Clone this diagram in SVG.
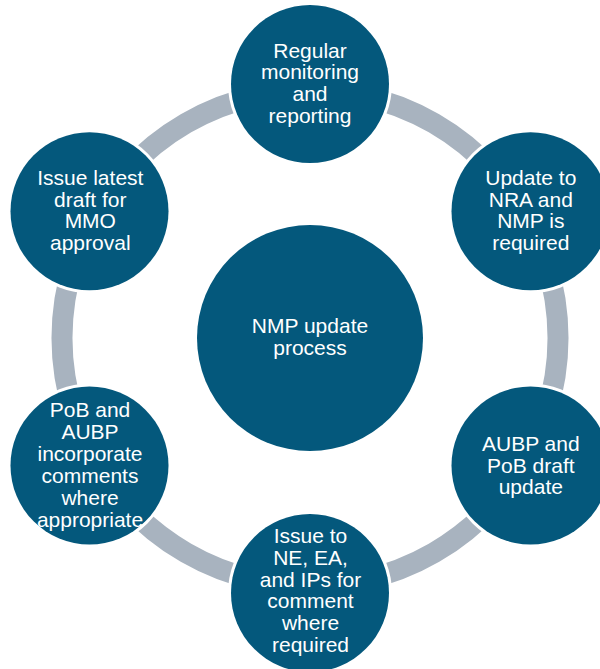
<svg xmlns="http://www.w3.org/2000/svg" width="600" height="669" viewBox="0 0 600 669">
<style>
.arc{fill:none;stroke:#A8B3BF;stroke-width:21}
.n{fill:#04587C;stroke:#FFFFFF;stroke-width:6;paint-order:stroke}
.t{font-family:"Liberation Sans",Arial,sans-serif;font-size:21px;fill:#FFFFFF;text-anchor:middle}
</style>
<rect width="600" height="669" fill="#FFFFFF"/>
<g id="connectors">
<path class="arc" d="M 361.57 95.42 A 248 248 0 0 1 494.3 172.1"/>
<path class="arc" d="M 545.9 261.4 A 248 248 0 0 1 545.9 414.6"/>
<path class="arc" d="M 494.3 503.9 A 248 248 0 0 1 361.57 580.58"/>
<path class="arc" d="M 258.43 580.58 A 248 248 0 0 1 125.7 503.9"/>
<path class="arc" d="M 74.1 414.6 A 248 248 0 0 1 74.1 261.4"/>
<path class="arc" d="M 125.7 172.1 A 248 248 0 0 1 258.43 95.42"/>
</g>
<g id="center">
<circle class="n" cx="310" cy="338" r="113"/>
<text class="t"><tspan x="310" y="333.3">NMP update</tspan><tspan x="310" y="355">process</tspan></text>
</g>
<g id="node-top">
<circle class="n" cx="310" cy="84" r="79"/>
<text class="t"><tspan x="310" y="57.7">Regular</tspan><tspan x="310" y="79.4">monitoring</tspan><tspan x="310" y="101.1">and</tspan><tspan x="310" y="122.8">reporting</tspan></text>
</g>
<g id="node-upper-right">
<circle class="n" cx="530.5" cy="211.2" r="79"/>
<text class="t"><tspan x="530.8" y="185">Update to</tspan><tspan x="530.8" y="206.7">NRA and</tspan><tspan x="530.8" y="228.4">NMP is</tspan><tspan x="530.8" y="250.1">required</tspan></text>
</g>
<g id="node-lower-right">
<circle class="n" cx="530.5" cy="465.5" r="79"/>
<text class="t"><tspan x="530.8" y="451">AUBP and</tspan><tspan x="530.8" y="472.7">PoB draft</tspan><tspan x="530.8" y="494.4">update</tspan></text>
</g>
<g id="node-bottom">
<circle class="n" cx="310" cy="593" r="79"/>
<text class="t"><tspan x="310.5" y="543.3">Issue to</tspan><tspan x="310.5" y="565">NE, EA,</tspan><tspan x="310.5" y="586.7">and IPs for</tspan><tspan x="310.5" y="608.4">comment</tspan><tspan x="310.5" y="630.1">where</tspan><tspan x="310.5" y="651.8">required</tspan></text>
</g>
<g id="node-lower-left">
<circle class="n" cx="89.5" cy="465.5" r="79"/>
<text class="t"><tspan x="90" y="416.7">PoB and</tspan><tspan x="90" y="438.7">AUBP</tspan><tspan x="90" y="460.7">incorporate</tspan><tspan x="90" y="482.7">comments</tspan><tspan x="90" y="504.7">where</tspan><tspan x="90" y="526.7">appropriate</tspan></text>
</g>
<g id="node-upper-left">
<circle class="n" cx="89.5" cy="211.2" r="79"/>
<text class="t"><tspan x="90.3" y="185">Issue latest</tspan><tspan x="90.3" y="206.7">draft for</tspan><tspan x="90.3" y="228.4">MMO</tspan><tspan x="90.3" y="250.1">approval</tspan></text>
</g>
</svg>
